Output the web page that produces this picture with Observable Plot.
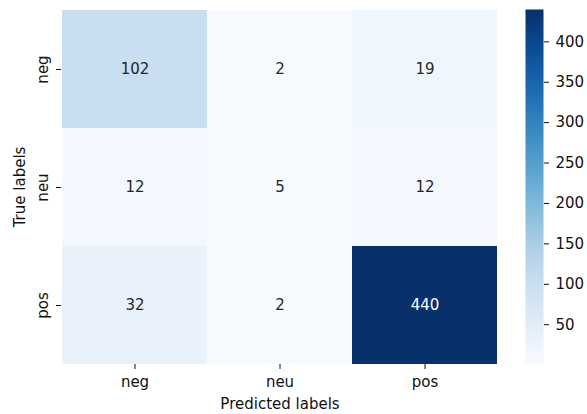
<!DOCTYPE html>
<html>
<head>
<meta charset="utf-8">
<script src="https://cdn.jsdelivr.net/npm/d3@7"></script>
<script src="https://cdn.jsdelivr.net/npm/@observablehq/plot@0.6"></script>
<style>
  html, body { margin: 0; padding: 0; background: #fff; }
  #chart { position: relative; width: 587px; height: 414px; }
  #chart svg { position: absolute; left: 0; top: 0; }
</style>
</head>
<body>
<div id="chart"></div>
<script>
// Class labels (rows = true, columns = predicted)
const labels = ["neg", "neu", "pos"];
// Confusion-matrix counts, one row per true label
const negRow = [102, 2, 19];
const neuRow = [12, 5, 12];
const posRow = [32, 2, 440];
// Colour bar range and ticks
const colorDomain = [2, 440];
const colorbarTicks = [50, 100, 150, 200, 250, 300, 350, 400];

const rows = [negRow, neuRow, posRow];
const cells = rows.flatMap((row, i) =>
  row.map((v, j) => ({ truth: labels[i], pred: labels[j], v }))
);

const W = 587, H = 414;
const font = { fontFamily: "'DejaVu Sans', sans-serif", fontSize: "15px", color: "#111", background: "transparent" };
const color = { type: "linear", scheme: "blues", domain: colorDomain };

// Heatmap
const heat = Plot.plot({
  width: W, height: H,
  marginLeft: 61, marginRight: 89, marginTop: 9, marginBottom: 50,
  style: font,
  x: { domain: labels, padding: 0 },
  y: { domain: labels, padding: 0 },
  color,
  marks: [
    Plot.cell(cells, { x: "pred", y: "truth", fill: "v" }),
    Plot.text(cells, {
      x: "pred", y: "truth", text: d => String(d.v),
      fill: d => d.v > 300 ? "white" : "#262626",
      fontSize: 15
    }),
    Plot.axisX({ tickSize: 5, tickPadding: 7, label: "Predicted labels", labelAnchor: "center", labelOffset: 44 }),
    // y ticks and title; the rotated tick labels are drawn by the text mark below
    Plot.axisY({ tickSize: 5, tickFormat: () => "", label: "True labels", labelAnchor: "center", labelOffset: 47 }),
    Plot.text(labels, {
      y: d => d, text: d => d, frameAnchor: "left", rotate: -90,
      textAnchor: "middle", lineAnchor: "bottom", dx: -14, fill: "#111", fontSize: 15
    })
  ]
});

// Vertical colour bar
const bar = Plot.plot({
  width: W, height: H,
  marginLeft: 525, marginRight: 44, marginTop: 9, marginBottom: 51,
  style: font,
  x: { domain: [0, 1], axis: null },
  y: { domain: colorDomain },
  color,
  marks: [
    Plot.raster({ fill: (x, y) => y, x1: 0, x2: 1, y1: colorDomain[0], y2: colorDomain[1], pixelSize: 1 }),
    Plot.axisY({ anchor: "right", ticks: colorbarTicks, tickSize: 5, tickPadding: 7, label: null })
  ]
});

const chart = document.getElementById("chart");
chart.append(heat, bar);
</script>
</body>
</html>
